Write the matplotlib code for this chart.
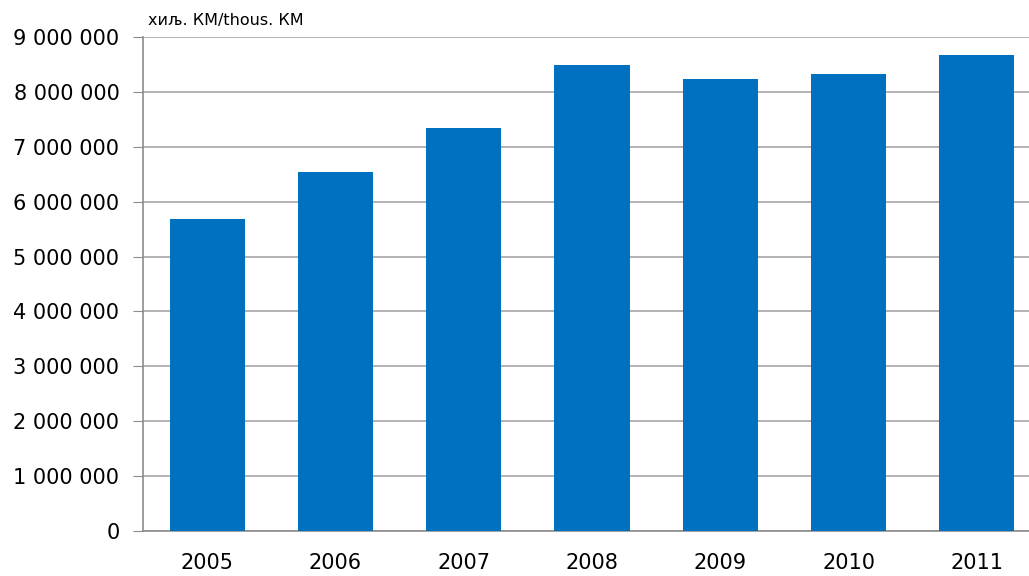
import matplotlib
matplotlib.use('Agg')
import matplotlib.pyplot as plt
from matplotlib.ticker import FuncFormatter

years = ['2005', '2006', '2007', '2008', '2009', '2010', '2011']
values = [5680000, 6540000, 7340000, 8490000, 8235000, 8320000, 8680000]

plt.rcParams['font.family'] = ['DejaVu Sans']

fig = plt.figure(figsize=(10.29, 5.76), dpi=100)
ax = fig.add_axes([143 / 1029, 1 - 531 / 576, (1029 - 143) / 1029, 494 / 576])

x = range(len(years))
ax.bar(x, values, width=75 / 128, color='#0070C0', zorder=3)

ax.set_ylim(0, 9000000)
ax.set_xlim(-0.5, 6.5 - 12 / 128)
ax.set_yticks(range(0, 9000001, 1000000))
ax.yaxis.set_major_formatter(FuncFormatter(lambda v, p: f'{int(v):,}'.replace(',', ' ')))
ax.set_xticks(list(x))
ax.set_xticklabels(years)
ax.grid(axis='y', color='#A6A6A6', linewidth=1.2, zorder=0)

for s in ['top', 'right']:
    ax.spines[s].set_visible(False)
ax.spines['left'].set_color('#8C8C8C')
ax.spines['bottom'].set_color('#8C8C8C')
ax.spines['left'].set_linewidth(1.2)
ax.spines['bottom'].set_linewidth(1.2)
ax.tick_params(axis='y', length=7, color='#8C8C8C', labelsize=15, pad=10)
ax.tick_params(axis='x', length=0, labelsize=15, pad=16)

fig.text(148 / 1029, 1 - 20 / 576, 'хиљ. КМ/thous. КМ', fontsize=11.5, va='center', ha='left')

fig.savefig('out.png', dpi=100)
